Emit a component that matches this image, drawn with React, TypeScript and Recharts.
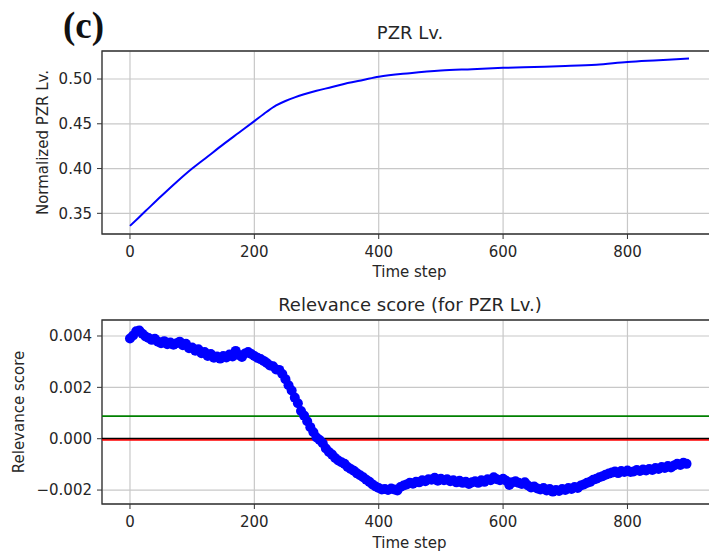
import React from "react";
import {
  LineChart,
  Line,
  ComposedChart,
  Scatter,
  XAxis,
  YAxis,
  CartesianGrid,
  ReferenceLine,
  ReferenceArea,
} from "recharts";

// PZR level (normalized)
const levelSteps = [0, 25, 50, 75, 100, 125, 150, 175, 200, 220, 235, 250, 265, 280, 300, 325, 350, 375, 400, 450, 500, 550, 600, 650, 700, 750, 800, 850, 899];
const levelValues = [
  0.336, 0.3525, 0.369, 0.385, 0.4, 0.4135, 0.427, 0.44, 0.453, 0.4635, 0.4705, 0.4755, 0.4795, 0.483, 0.487,
  0.491, 0.4955, 0.499, 0.5025, 0.5065, 0.5095, 0.511, 0.5125, 0.5135, 0.5145, 0.516, 0.519, 0.521, 0.523,
];

// relevance score, one reading every 5 time steps
const RELEVANCE_STEP = 5;
const relevanceValues = [
  0.0039, 0.00402, 0.00418, 0.00421, 0.00409, 0.00398, 0.00392, 0.00385, 0.00389, 0.00378,
  0.00372, 0.0038, 0.00368, 0.00375, 0.00366, 0.00372, 0.00378, 0.00364, 0.0037, 0.00352,
  0.00355, 0.00343, 0.00348, 0.00333, 0.00338, 0.00322, 0.0033, 0.00315, 0.0032, 0.00312,
  0.00322, 0.00316, 0.00328, 0.0032, 0.00342, 0.00326, 0.00318, 0.00332, 0.00338, 0.0033,
  0.00322, 0.00315, 0.0031, 0.00303, 0.00295, 0.00285, 0.00282, 0.0027, 0.00268, 0.00252,
  0.00232, 0.00208, 0.00188, 0.0016, 0.00138, 0.00108, 0.0009, 0.00068, 0.00045, 0.00025,
  0.00005, -0.00005, -0.00018, -0.00038, -0.00052, -0.00062, -0.00075, -0.00085, -0.00092, -0.00098,
  -0.0011, -0.00118, -0.00125, -0.00135, -0.00142, -0.0015, -0.0016, -0.00168, -0.00178, -0.00186,
  -0.00192, -0.00198, -0.00196, -0.002, -0.00194, -0.00198, -0.00202, -0.00188, -0.00182, -0.00178,
  -0.00172, -0.00175, -0.00168, -0.0017, -0.00162, -0.00166, -0.00158, -0.0016, -0.00152, -0.00164,
  -0.00156, -0.00162, -0.00158, -0.00166, -0.00162, -0.0017, -0.00164, -0.00172, -0.00168, -0.00176,
  -0.0017, -0.00166, -0.00172, -0.00162, -0.00168, -0.00158, -0.00162, -0.0015, -0.00158, -0.00162,
  -0.00156, -0.00164, -0.0018, -0.0017, -0.00166, -0.00172, -0.00176, -0.0017, -0.00182, -0.0019,
  -0.00186, -0.00194, -0.00198, -0.00192, -0.00202, -0.00196, -0.00206, -0.002, -0.00204, -0.00196,
  -0.002, -0.00192, -0.00196, -0.00188, -0.00192, -0.00182, -0.00178, -0.00172, -0.00168, -0.0016,
  -0.00156, -0.0015, -0.00146, -0.0014, -0.00136, -0.00132, -0.00128, -0.00134, -0.00126, -0.0013,
  -0.00124, -0.0013, -0.00128, -0.00122, -0.00126, -0.0012, -0.00124, -0.00118, -0.00122, -0.00114,
  -0.00118, -0.0011, -0.00114, -0.00106, -0.00112, -0.00104, -0.00098, -0.00102, -0.00094, -0.00098,
];

const xTicks = [0, 200, 400, 600, 800];
const levelTicks = [0.35, 0.4, 0.45, 0.5];
const relevanceTicks = [-0.002, 0, 0.002, 0.004];
const thresholdHigh = 0.00088;
const thresholdLow = -0.00005;

const X_DOMAIN: [number, number] = [-45, 944];
const LEVEL_DOMAIN: [number, number] = [0.3269, 0.5313];
const REL_DOMAIN: [number, number] = [-0.002543, 0.004623];

const levelData = levelSteps.map((step, i) => ({ step, value: levelValues[i] }));
const relevanceData = relevanceValues.map((value, i) => ({ step: i * RELEVANCE_STEP, value }));

const FONT = "'DejaVu Sans', sans-serif";
const TEXT = "#262626";
const tickStyle = { fill: TEXT, fontSize: 15, fontFamily: FONT };
const labelStyle = { fill: TEXT, fontSize: 15, fontFamily: FONT, textAnchor: "middle" as const };

const fmtMinus = (v: number, digits: number) => {
  const s = Math.abs(v).toFixed(digits);
  return v < 0 ? "\u2212" + s : s;
};

const Dot = (props: any) => <circle cx={props.cx} cy={props.cy} r={5} fill="#0000ff" />;

export default function App() {
  return (
    <div
      style={{
        position: "absolute",
        left: 0,
        top: 0,
        width: 709,
        height: 553,
        overflow: "hidden",
        background: "#fff",
        fontFamily: FONT,
      }}
    >
      <div
        style={{
          position: "absolute",
          left: 63,
          top: 7,
          fontFamily: "'Liberation Serif', serif",
          fontWeight: "bold",
          fontSize: 37,
          lineHeight: "37px",
          color: "#111",
        }}
      >
        (c)
      </div>
      <div style={{ position: "absolute", left: 410, top: 23, transform: "translateX(-50%)", fontSize: 18, lineHeight: "20px", color: TEXT, whiteSpace: "nowrap" }}>
        PZR Lv.
      </div>
      <div style={{ position: "absolute", left: 410, top: 295, transform: "translateX(-50%)", fontSize: 18, lineHeight: "20px", color: TEXT, whiteSpace: "nowrap" }}>
        Relevance score (for PZR Lv.)
      </div>

      <div style={{ position: "absolute", left: 0, top: 0 }}>
        <LineChart width={740} height={290} data={levelData} margin={{ top: 51, right: 23, left: 0, bottom: 0 }}>
          <CartesianGrid stroke="#c8c8c8" strokeWidth={1.2} />
          <XAxis
            type="number"
            dataKey="step"
            domain={X_DOMAIN}
            allowDataOverflow
            ticks={xTicks}
            height={56}
            tick={tickStyle}
            tickSize={5}
            tickMargin={7}
            tickLine={{ stroke: "#333" }}
            axisLine={false}
            label={{ value: "Time step", position: "insideBottom", offset: 13, style: labelStyle }}
          />
          <YAxis
            type="number"
            domain={LEVEL_DOMAIN}
            allowDataOverflow
            ticks={levelTicks}
            width={102}
            tick={tickStyle}
            tickSize={5}
            tickMargin={5}
            tickLine={{ stroke: "#333" }}
            axisLine={false}
            tickFormatter={(v: number) => v.toFixed(2)}
            label={{ value: "Normalized PZR Lv.", angle: -90, position: "insideLeft", offset: 43, style: labelStyle }}
          />
          <ReferenceArea x1={X_DOMAIN[0]} x2={X_DOMAIN[1]} y1={LEVEL_DOMAIN[0]} y2={LEVEL_DOMAIN[1]} fill="none" stroke="#333" strokeWidth={1.3} />
          <Line type="monotone" dataKey="value" stroke="#0000ff" strokeWidth={2} dot={false} isAnimationActive={false} />
        </LineChart>
      </div>

      <div style={{ position: "absolute", left: 0, top: 290 }}>
        <ComposedChart width={740} height={263} data={relevanceData} margin={{ top: 30, right: 23, left: 0, bottom: 0 }}>
          <CartesianGrid stroke="#c8c8c8" strokeWidth={1.2} />
          <XAxis
            type="number"
            dataKey="step"
            domain={X_DOMAIN}
            allowDataOverflow
            ticks={xTicks}
            height={49}
            tick={tickStyle}
            tickSize={5}
            tickMargin={7}
            tickLine={{ stroke: "#333" }}
            axisLine={false}
            label={{ value: "Time step", position: "insideBottom", offset: 5, style: labelStyle }}
          />
          <YAxis
            type="number"
            dataKey="value"
            domain={REL_DOMAIN}
            allowDataOverflow
            ticks={relevanceTicks}
            width={102}
            tick={tickStyle}
            tickSize={5}
            tickMargin={5}
            tickLine={{ stroke: "#333" }}
            axisLine={false}
            tickFormatter={(v: number) => fmtMinus(v, 3)}
            label={{ value: "Relevance score", angle: -90, position: "insideLeft", offset: 19, style: labelStyle }}
          />
          <ReferenceLine y={thresholdHigh} stroke="#008000" strokeWidth={1.6} />
          <ReferenceLine y={0} stroke="#000" strokeWidth={2} />
          <ReferenceLine y={thresholdLow} stroke="#ff0000" strokeWidth={1.3} />
          <ReferenceArea x1={X_DOMAIN[0]} x2={X_DOMAIN[1]} y1={REL_DOMAIN[0]} y2={REL_DOMAIN[1]} fill="none" stroke="#333" strokeWidth={1.3} />
          <Scatter dataKey="value" shape={Dot} isAnimationActive={false} />
        </ComposedChart>
      </div>
    </div>
  );
}
